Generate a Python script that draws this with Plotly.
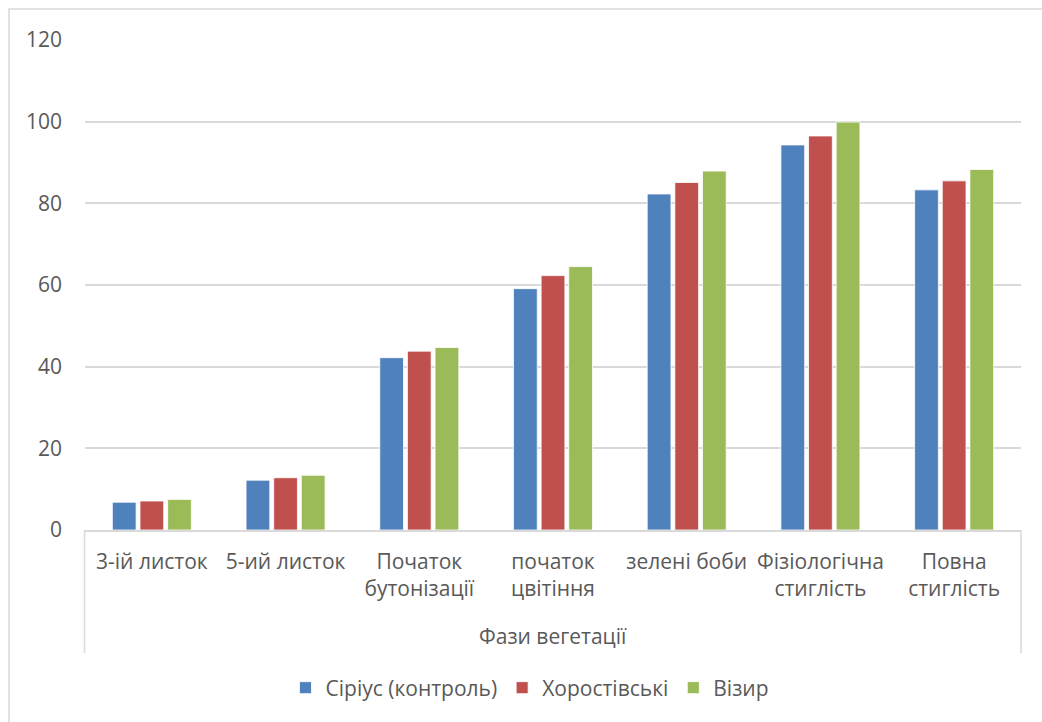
import plotly.graph_objects as go

# Vegetation phases (category axis) and series values
phases = [
    "3-ій листок",
    "5-ий листок",
    "Початок<br>бутонізації",
    "початок<br>цвітіння",
    "зелені боби",
    "Фізіологічна<br>стиглість",
    "Повна<br>стиглість",
]
sirius = [6.8, 12.2, 42.2, 59.1, 82.3, 94.3, 83.3]
khorostivski = [7.1, 12.8, 43.8, 62.3, 85.1, 96.5, 85.5]
vizyr = [7.5, 13.4, 44.7, 64.5, 87.9, 99.9, 88.3]

series_names = ["Сіріус (контроль)", "Хоростівські", "Візир"]
series_colors = ["#4F81BD", "#C0504D", "#9BBB59"]
y_ticks = [0, 20, 40, 60, 80, 100, 120]
axis_group_title = "Фази вегетації"

FONT = "Open Sans"
FSIZE = 21
TEXT_COLOR = "#595959"
GRID = "#D9D9D9"

fig = go.Figure()
for name, vals, col in zip(series_names, [sirius, khorostivski, vizyr], series_colors):
    fig.add_trace(go.Bar(
        x=list(range(len(phases))),
        y=vals,
        name=name,
        marker=dict(color=col, line=dict(color="rgba(255,255,255,0.8)", width=1)),
    ))

W, H = 1042, 722
L, R, T, B = 85, 21, 40, 192
plot_h = H - T - B


def py(px):
    # convert a pixel row to paper y
    return (H - B - px) / plot_h


def px_x(px):
    return (px - L) / (W - L - R)


fig.update_layout(
    width=W, height=H,
    margin=dict(l=L, r=R, t=T, b=B),
    paper_bgcolor="white",
    plot_bgcolor="white",
    font=dict(family=FONT, size=FSIZE, color=TEXT_COLOR),
    barmode="group",
    bargap=0.38,
    bargroupgap=0.14,
    showlegend=True,
    legend=dict(
        orientation="h",
        x=px_x(530), xanchor="center",
        y=py(688), yanchor="middle",
        font=dict(family=FONT, size=FSIZE, color=TEXT_COLOR),
        itemwidth=30,
        traceorder="normal",
    ),
    xaxis=dict(
        tickmode="array",
        tickvals=list(range(len(phases))),
        ticktext=phases,
        range=[-0.5, len(phases) - 0.5],
        showgrid=False,
        showline=True, linecolor=GRID, linewidth=1.5,
        ticks="", ticklabelstandoff=12,
        tickfont=dict(family=FONT, size=FSIZE, color=TEXT_COLOR),
        zeroline=False,
    ),
    yaxis=dict(
        range=[0, 120],
        tickmode="array",
        tickvals=y_ticks,
        showgrid=True, gridcolor=GRID, gridwidth=1.5,
        zeroline=False, showline=False,
        ticks="", ticklabelstandoff=22,
        tickfont=dict(family=FONT, size=FSIZE, color=TEXT_COLOR),
    ),
    shapes=[
        # outer chart frame
        dict(type="rect", xref="paper", yref="paper",
             x0=px_x(9), x1=px_x(1060), y0=py(740), y1=py(9),
             line=dict(color=GRID, width=1.5), layer="below"),
        # category group dividers
        dict(type="line", xref="paper", yref="paper",
             x0=px_x(84.5), x1=px_x(84.5), y0=0, y1=py(653),
             line=dict(color=GRID, width=1.5)),
        dict(type="line", xref="paper", yref="paper",
             x0=1, x1=1, y0=0, y1=py(653),
             line=dict(color=GRID, width=1.5)),
    ],
    annotations=[
        dict(text=axis_group_title, xref="paper", yref="paper",
             x=0.5, y=py(636), xanchor="center", yanchor="middle",
             showarrow=False, font=dict(family=FONT, size=FSIZE, color=TEXT_COLOR)),
    ],
)

fig.write_html("out.html")
